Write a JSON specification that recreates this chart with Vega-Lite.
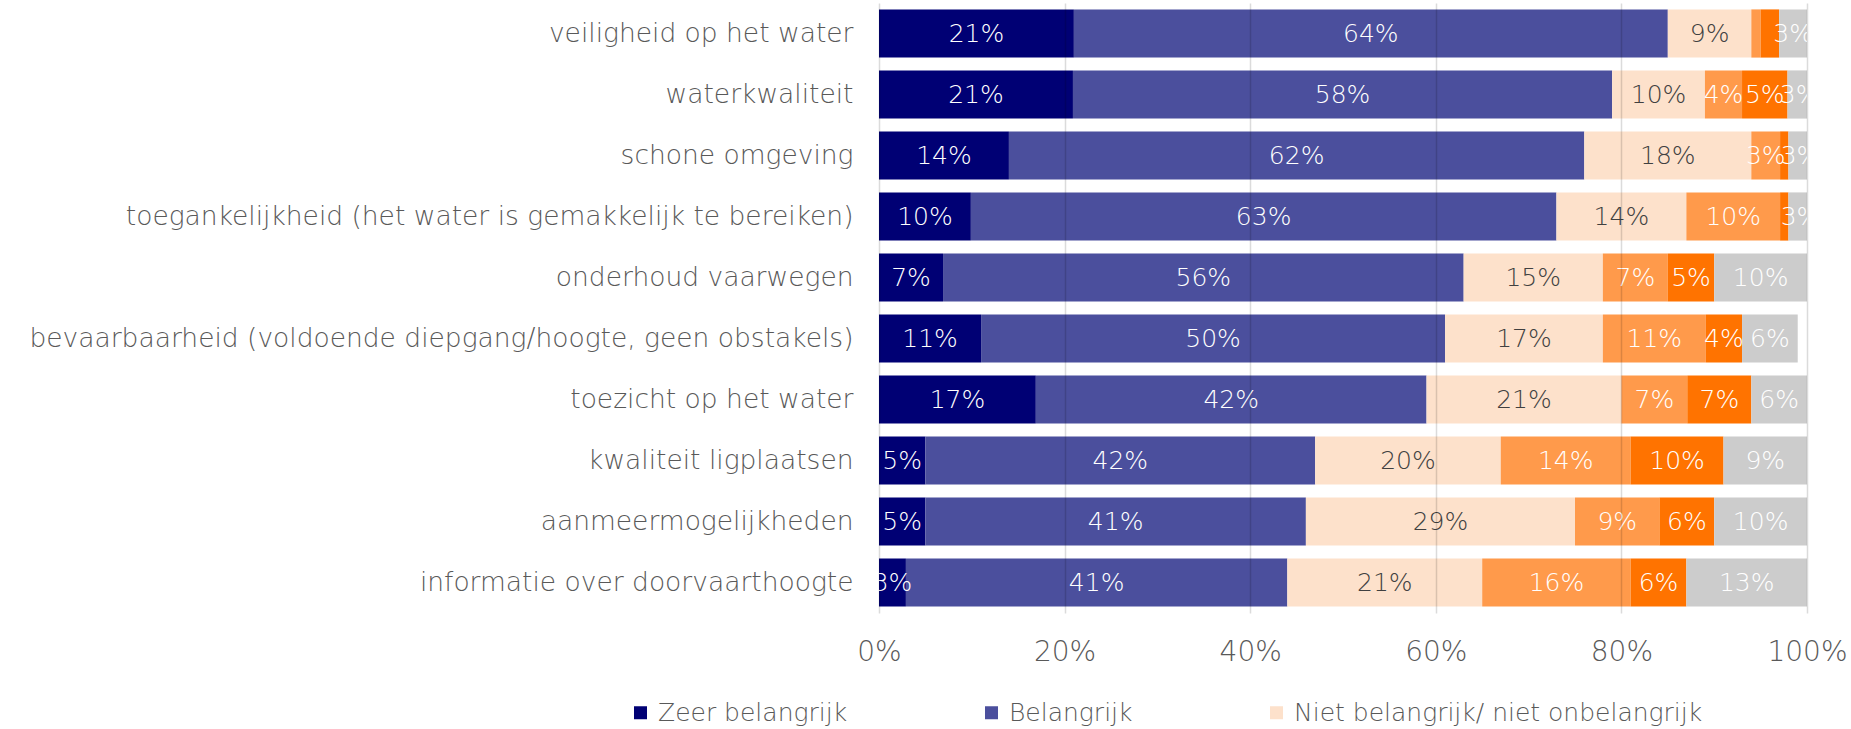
{
  "$schema": "https://vega.github.io/schema/vega-lite/v6.json",
  "width": 928,
  "height": 610,
  "autosize": {"type": "none"},
  "padding": {"left": 879, "top": 3, "right": 44, "bottom": 116},
  "background": "white",
  "config": {
    "view": {"stroke": null},
    "font": "DejaVu Sans"
  },
  "data": {
    "values": [
      {"item": "veiligheid op het water", "cat": "Zeer belangrijk", "value": 0.21},
      {"item": "veiligheid op het water", "cat": "Belangrijk", "value": 0.64},
      {"item": "veiligheid op het water", "cat": "Niet belangrijk/ niet onbelangrijk", "value": 0.09},
      {"item": "veiligheid op het water", "cat": "Onbelangrijk", "value": 0.01},
      {"item": "veiligheid op het water", "cat": "Zeer onbelangrijk", "value": 0.02},
      {"item": "veiligheid op het water", "cat": "Weet niet/ geen mening", "value": 0.03},
      {"item": "waterkwaliteit", "cat": "Zeer belangrijk", "value": 0.209},
      {"item": "waterkwaliteit", "cat": "Belangrijk", "value": 0.581},
      {"item": "waterkwaliteit", "cat": "Niet belangrijk/ niet onbelangrijk", "value": 0.10},
      {"item": "waterkwaliteit", "cat": "Onbelangrijk", "value": 0.04},
      {"item": "waterkwaliteit", "cat": "Zeer onbelangrijk", "value": 0.049},
      {"item": "waterkwaliteit", "cat": "Weet niet/ geen mening", "value": 0.026},
      {"item": "schone omgeving", "cat": "Zeer belangrijk", "value": 0.14},
      {"item": "schone omgeving", "cat": "Belangrijk", "value": 0.62},
      {"item": "schone omgeving", "cat": "Niet belangrijk/ niet onbelangrijk", "value": 0.18},
      {"item": "schone omgeving", "cat": "Onbelangrijk", "value": 0.031},
      {"item": "schone omgeving", "cat": "Zeer onbelangrijk", "value": 0.009},
      {"item": "schone omgeving", "cat": "Weet niet/ geen mening", "value": 0.026},
      {"item": "toegankelijkheid (het water is gemakkelijk te bereiken)", "cat": "Zeer belangrijk", "value": 0.099},
      {"item": "toegankelijkheid (het water is gemakkelijk te bereiken)", "cat": "Belangrijk", "value": 0.631},
      {"item": "toegankelijkheid (het water is gemakkelijk te bereiken)", "cat": "Niet belangrijk/ niet onbelangrijk", "value": 0.14},
      {"item": "toegankelijkheid (het water is gemakkelijk te bereiken)", "cat": "Onbelangrijk", "value": 0.101},
      {"item": "toegankelijkheid (het water is gemakkelijk te bereiken)", "cat": "Zeer onbelangrijk", "value": 0.009},
      {"item": "toegankelijkheid (het water is gemakkelijk te bereiken)", "cat": "Weet niet/ geen mening", "value": 0.026},
      {"item": "onderhoud vaarwegen", "cat": "Zeer belangrijk", "value": 0.069},
      {"item": "onderhoud vaarwegen", "cat": "Belangrijk", "value": 0.561},
      {"item": "onderhoud vaarwegen", "cat": "Niet belangrijk/ niet onbelangrijk", "value": 0.15},
      {"item": "onderhoud vaarwegen", "cat": "Onbelangrijk", "value": 0.07},
      {"item": "onderhoud vaarwegen", "cat": "Zeer onbelangrijk", "value": 0.05},
      {"item": "onderhoud vaarwegen", "cat": "Weet niet/ geen mening", "value": 0.10},
      {"item": "bevaarbaarheid (voldoende diepgang/hoogte, geen obstakels)", "cat": "Zeer belangrijk", "value": 0.11},
      {"item": "bevaarbaarheid (voldoende diepgang/hoogte, geen obstakels)", "cat": "Belangrijk", "value": 0.50},
      {"item": "bevaarbaarheid (voldoende diepgang/hoogte, geen obstakels)", "cat": "Niet belangrijk/ niet onbelangrijk", "value": 0.17},
      {"item": "bevaarbaarheid (voldoende diepgang/hoogte, geen obstakels)", "cat": "Onbelangrijk", "value": 0.111},
      {"item": "bevaarbaarheid (voldoende diepgang/hoogte, geen obstakels)", "cat": "Zeer onbelangrijk", "value": 0.039},
      {"item": "bevaarbaarheid (voldoende diepgang/hoogte, geen obstakels)", "cat": "Weet niet/ geen mening", "value": 0.06},
      {"item": "toezicht op het water", "cat": "Zeer belangrijk", "value": 0.169},
      {"item": "toezicht op het water", "cat": "Belangrijk", "value": 0.421},
      {"item": "toezicht op het water", "cat": "Niet belangrijk/ niet onbelangrijk", "value": 0.21},
      {"item": "toezicht op het water", "cat": "Onbelangrijk", "value": 0.071},
      {"item": "toezicht op het water", "cat": "Zeer onbelangrijk", "value": 0.069},
      {"item": "toezicht op het water", "cat": "Weet niet/ geen mening", "value": 0.06},
      {"item": "kwaliteit ligplaatsen", "cat": "Zeer belangrijk", "value": 0.05},
      {"item": "kwaliteit ligplaatsen", "cat": "Belangrijk", "value": 0.42},
      {"item": "kwaliteit ligplaatsen", "cat": "Niet belangrijk/ niet onbelangrijk", "value": 0.20},
      {"item": "kwaliteit ligplaatsen", "cat": "Onbelangrijk", "value": 0.14},
      {"item": "kwaliteit ligplaatsen", "cat": "Zeer onbelangrijk", "value": 0.10},
      {"item": "kwaliteit ligplaatsen", "cat": "Weet niet/ geen mening", "value": 0.09},
      {"item": "aanmeermogelijkheden", "cat": "Zeer belangrijk", "value": 0.05},
      {"item": "aanmeermogelijkheden", "cat": "Belangrijk", "value": 0.41},
      {"item": "aanmeermogelijkheden", "cat": "Niet belangrijk/ niet onbelangrijk", "value": 0.29},
      {"item": "aanmeermogelijkheden", "cat": "Onbelangrijk", "value": 0.091},
      {"item": "aanmeermogelijkheden", "cat": "Zeer onbelangrijk", "value": 0.059},
      {"item": "aanmeermogelijkheden", "cat": "Weet niet/ geen mening", "value": 0.10},
      {"item": "informatie over doorvaarthoogte", "cat": "Zeer belangrijk", "value": 0.029},
      {"item": "informatie over doorvaarthoogte", "cat": "Belangrijk", "value": 0.411},
      {"item": "informatie over doorvaarthoogte", "cat": "Niet belangrijk/ niet onbelangrijk", "value": 0.21},
      {"item": "informatie over doorvaarthoogte", "cat": "Onbelangrijk", "value": 0.16},
      {"item": "informatie over doorvaarthoogte", "cat": "Zeer onbelangrijk", "value": 0.06},
      {"item": "informatie over doorvaarthoogte", "cat": "Weet niet/ geen mening", "value": 0.13}
    ]
  },
  "transform": [
    {"calculate": "indexof(['Zeer belangrijk','Belangrijk','Niet belangrijk/ niet onbelangrijk','Onbelangrijk','Zeer onbelangrijk','Weet niet/ geen mening'], datum.cat)", "as": "k"},
    {"stack": "value", "groupby": ["item"], "sort": [{"field": "k", "order": "ascending"}], "as": ["x0", "x1"]},
    {"calculate": "(datum.x0 + datum.x1) / 2", "as": "xm"}
  ],
  "encoding": {
    "y": {
      "field": "item",
      "type": "nominal",
      "sort": [
        "veiligheid op het water",
        "waterkwaliteit",
        "schone omgeving",
        "toegankelijkheid (het water is gemakkelijk te bereiken)",
        "onderhoud vaarwegen",
        "bevaarbaarheid (voldoende diepgang/hoogte, geen obstakels)",
        "toezicht op het water",
        "kwaliteit ligplaatsen",
        "aanmeermogelijkheden",
        "informatie over doorvaarthoogte"
      ],
      "scale": {"paddingInner": 0.21, "paddingOuter": 0.105},
      "axis": {
        "title": null,
        "domain": false,
        "ticks": false,
        "tickSize": 0,
        "labelPadding": 26,
        "labelLimit": 900,
        "labelFontSize": 26.5,
        "labelColor": "#595959",
        "labelFont": "DejaVu Sans",
        "labelFontWeight": 200
      }
    }
  },
  "layer": [
    {
      "mark": {"type": "bar"},
      "encoding": {
        "x": {
          "field": "x0",
          "type": "quantitative",
          "scale": {"domain": [0, 1], "clamp": true, "nice": false},
          "axis": {
            "title": null,
            "format": ".0%",
            "values": [0, 0.2, 0.4, 0.6, 0.8, 1],
            "domain": false,
            "ticks": false,
            "tickSize": 0,
            "grid": true,
            "gridColor": "#000000",
            "gridOpacity": 0.14,
            "gridWidth": 1.5,
            "zindex": 1,
            "labelFlush": false,
            "labelOverlap": false,
            "labelPadding": 25,
            "labelFontSize": 28,
            "labelColor": "#595959",
            "labelFont": "DejaVu Sans",
            "labelFontWeight": 200
          }
        },
        "x2": {"field": "x1"},
        "color": {
          "field": "cat",
          "type": "nominal",
          "scale": {
            "domain": ["Zeer belangrijk", "Belangrijk", "Niet belangrijk/ niet onbelangrijk", "Onbelangrijk", "Zeer onbelangrijk", "Weet niet/ geen mening"],
            "range": ["#000074", "#4B4F9D", "#FDE1CB", "#FF9A4B", "#FF7300", "#CCCCCC"]
          },
          "legend": {
            "title": null,
            "orient": "none",
            "legendX": -251,
            "legendY": 697,
            "direction": "horizontal",
            "columns": 3,
            "columnPadding": 131,
            "values": ["Zeer belangrijk", "Belangrijk", "Niet belangrijk/ niet onbelangrijk"],
            "symbolType": "square",
            "symbolSize": 169,
            "symbolStrokeWidth": 0,
            "labelFontSize": 25,
            "labelColor": "#595959",
            "labelFont": "DejaVu Sans",
            "labelFontWeight": 200,
            "labelOffset": 5,
            "labelLimit": 600
          }
        }
      }
    },
    {
      "transform": [{"filter": "datum.value >= 0.025"}],
      "mark": {"type": "text", "fontSize": 25, "font": "DejaVu Sans", "fontWeight": 200, "baseline": "middle", "align": "center"},
      "encoding": {
        "x": {"field": "xm", "type": "quantitative"},
        "text": {"field": "value", "type": "quantitative", "format": ".0%"},
        "color": {
          "condition": {"test": "datum.cat === 'Niet belangrijk/ niet onbelangrijk'", "value": "#404040"},
          "value": "#FFFFFF"
        }
      }
    }
  ]
}
